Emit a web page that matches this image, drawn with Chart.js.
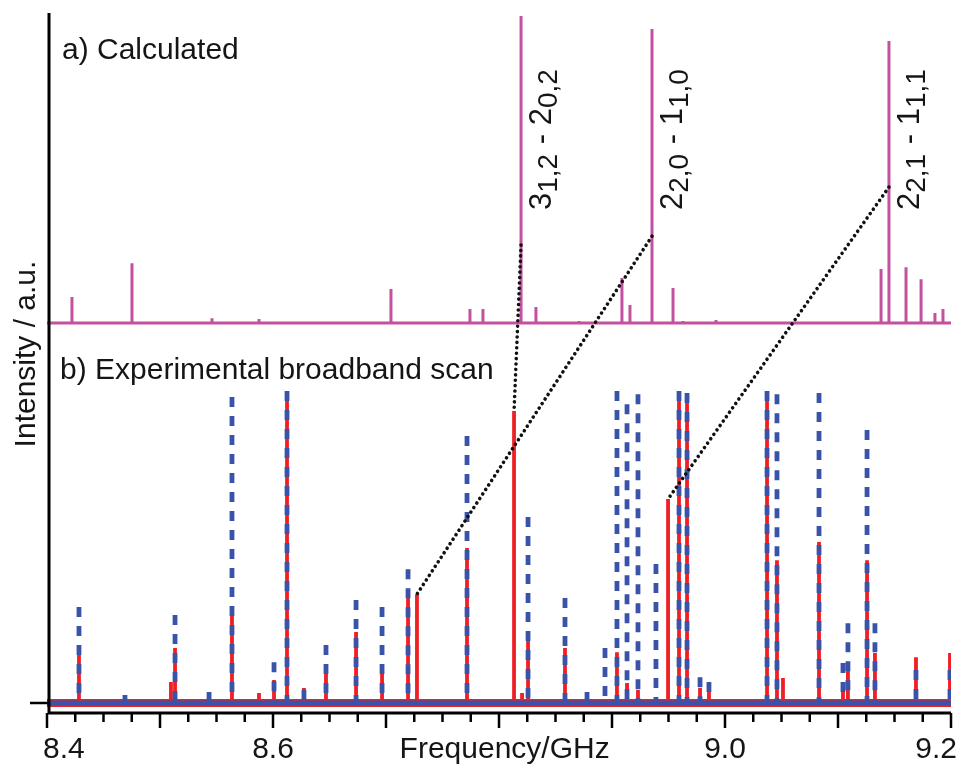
<!DOCTYPE html>
<html>
<head>
<meta charset="utf-8">
<script src="https://cdn.jsdelivr.net/npm/chart.js@4"></script>
<style>
  body { margin: 0; background: #fff; }
  canvas { display: block; }
</style>
</head>
<body>
<canvas id="spec" width="959" height="766"></canvas>
<script>
// a) calculated stick spectrum: frequency (GHz) and relative intensity (strongest = 100)
const calcFreq = [8.4221, 8.4752, 8.5460, 8.5876, 8.7044, 8.7743, 8.7858, 8.8195, 8.8327, 8.8708, 8.9088,
                  8.9159, 8.9354, 8.9540, 8.9628, 8.9920, 9.1381, 9.1451, 9.1602, 9.1735, 9.1858, 9.1929];
const calcInt  = [8.5, 19.5, 1.6, 1.3, 11.1, 4.6, 4.6, 100, 5.2, 0.7, 14.7,
                  5.9, 95.8, 11.4, 0.7, 1.0, 17.6, 91.9, 18.2, 14.3, 3.3, 4.6];

// b) experimental broadband scan, red trace (solid)
const redFreq = [8.4283, 8.5097, 8.5133, 8.5637, 8.5876, 8.6009, 8.6124, 8.6274, 8.6469, 8.6735, 8.6965, 8.7195,
                 8.7274, 8.7717, 8.8133, 8.8204, 8.8257, 8.8584, 8.8779, 8.9044, 8.9133, 8.9230, 8.9496, 8.9593,
                 8.9664, 8.9779, 8.9858, 9.0372, 9.0460, 9.0513, 9.0832, 9.1044, 9.1088, 9.1257, 9.1327, 9.1690, 9.1991];
const redInt  = [15.4, 6.7, 17.6, 28.2, 3.2, 7.4, 100, 4.8, 9.6, 22.8, 9.6, 33.7,
                 34.9, 49.7, 93.6, 3.2, 20.2, 17.6, 3.5, 16.3, 6.4, 4.2, 65.4, 100,
                 99.4, 4.8, 4.8, 100, 45.8, 8.0, 51.6, 5.8, 10.6, 45.8, 16.0, 14.7, 16.0];

// b) experimental broadband scan, blue trace (dashed)
const blueFreq = [8.4283, 8.4690, 8.5133, 8.5434, 8.5637, 8.6009, 8.6124, 8.6274, 8.6469, 8.6735, 8.6965, 8.7195,
                  8.7717, 8.8257, 8.8584, 8.8779, 8.8938, 8.9044, 8.9133, 8.9230, 8.9389, 8.9593, 8.9664, 8.9779,
                  8.9858, 9.0372, 9.0460, 9.0832, 9.1044, 9.1088, 9.1257, 9.1327, 9.1690, 9.1991];
const blueInt  = [30.8, 2.6, 28.2, 3.5, 98.1, 13.1, 100, 4.2, 18.6, 33.0, 30.8, 42.9,
                  85.6, 59.6, 33.7, 3.5, 17.6, 100, 95.8, 99.0, 44.6, 100, 99.4, 8.3,
                  6.7, 100, 99.0, 99.4, 12.8, 25.6, 87.5, 25.6, 10.6, 10.6];

// x axis
const xMin = 8.4, xMax = 9.2, xMinorStep = 0.025;
const xTickValues = [8.4, 8.6, 9.0, 9.2];
const xTickLabels = ['8.4', '8.6', '9.0', '9.2'];

// assignments: calculated line -> observed line
const assignUpper  = ['3', '2', '2'];
const assignUpperK = ['1,2', '2,0', '2,1'];
const assignLower  = ['2', '1', '1'];
const assignLowerK = ['0,2', '1,0', '1,1'];
const assignCalcFreq = [8.8195, 8.9354, 9.1451];
const assignCalcAt   = [25.4, 28.3, 44.3];
const assignObsFreq  = [8.8133, 8.7274, 8.9496];
const assignObsInt   = [93.6, 34.9, 65.4];

const FONT = '"Liberation Sans", Arial, sans-serif';
const MAGENTA = '#c4519f', RED = '#ee1f25', BLUE = '#3953a8';

// stick spectrum as one polyline along the baseline
function stickLine(freqs, ints) {
  const pts = [{x: xMin, y: 0}];
  freqs.forEach((f, i) => pts.push({x: f, y: 0}, {x: f, y: ints[i]}, {x: f, y: 0}));
  pts.push({x: xMax, y: 0});
  return pts;
}
// separate sticks, drawn from the top down
function sticks(freqs, ints) {
  const pts = [];
  freqs.forEach((f, i) => pts.push({x: f, y: ints[i]}, {x: f, y: 0}, {x: f, y: null}));
  return pts;
}

const frame = {
  id: 'frame',
  afterDatasetsDraw(chart) {
    const {ctx, chartArea: a, scales: {x, yc, ye}} = chart;
    ctx.save();

    // dotted assignment lines
    ctx.strokeStyle = '#111';
    ctx.lineWidth = 3.6;
    ctx.lineCap = 'round';
    ctx.setLineDash([0.01, 5.4]);
    assignCalcFreq.forEach((f, i) => {
      ctx.beginPath();
      ctx.moveTo(x.getPixelForValue(f), yc.getPixelForValue(assignCalcAt[i]));
      ctx.lineTo(x.getPixelForValue(assignObsFreq[i]), ye.getPixelForValue(assignObsInt[i]));
      ctx.stroke();
    });
    ctx.setLineDash([]);
    ctx.lineCap = 'butt';

    // axes
    ctx.strokeStyle = '#000';
    ctx.lineWidth = 3;
    ctx.beginPath();
    ctx.moveTo(a.left + 2, a.top);
    ctx.lineTo(a.left + 2, a.bottom + 1.5);
    ctx.moveTo(a.left + 0.5, a.bottom);
    ctx.lineTo(a.right, a.bottom);
    ctx.stroke();

    ctx.lineWidth = 2.5;
    ctx.beginPath();
    const y0 = ye.getPixelForValue(0);
    ctx.moveTo(a.left - 17, y0);
    ctx.lineTo(a.left + 2, y0);
    const n = Math.round((xMax - xMin) / xMinorStep);
    for (let i = 0; i <= n; i++) {
      const px = x.getPixelForValue(xMin + i * xMinorStep);
      ctx.moveTo(px, a.bottom);
      ctx.lineTo(px, a.bottom + (i % 4 === 0 ? 15 : 9));
    }
    ctx.stroke();

    // tick labels and axis titles
    ctx.fillStyle = '#151515';
    ctx.font = '30px ' + FONT;
    ctx.textBaseline = 'alphabetic';
    ctx.textAlign = 'left';
    xTickValues.forEach((v, i) => {
      const w = ctx.measureText(xTickLabels[i]).width;
      let left = x.getPixelForValue(v) - w / 2;
      left = Math.max(43, Math.min(left, chart.width - 2 - w));
      ctx.fillText(xTickLabels[i], left, 758);
    });
    ctx.textAlign = 'center';
    ctx.fillText('Frequency/GHz', x.getPixelForValue(8.805), 758);

    ctx.save();
    ctx.translate(35, 354);
    ctx.rotate(-Math.PI / 2);
    ctx.fillText('Intensity / a.u.', 0, 0);
    ctx.restore();

    ctx.textAlign = 'left';
    ctx.fillText('a) Calculated', 62, 59);
    ctx.fillText('b) Experimental broadband scan', 60, 379);

    // assignment labels, rotated, with subscripts
    assignCalcFreq.forEach((f, i) => {
      ctx.save();
      ctx.translate(x.getPixelForValue(f) + 30, 210);
      ctx.rotate(-Math.PI / 2);
      let cx = 0;
      const runs = [[assignUpper[i], false], [assignUpperK[i], true], [' - ' + assignLower[i], false], [assignLowerK[i], true]];
      runs.forEach(([t, sub]) => {
        ctx.font = (sub ? '28px ' : '31px ') + FONT;
        ctx.fillText(t, cx, sub ? 6 : 0);
        cx += ctx.measureText(t).width + (sub ? 1 : 0);
      });
      ctx.restore();
    });

    ctx.restore();
  }
};

new Chart(document.getElementById('spec'), {
  type: 'line',
  data: {
    datasets: [
      { data: sticks(blueFreq, blueInt), yAxisID: 'ye', borderColor: BLUE, borderWidth: 4.8,
        borderDash: [10, 9], spanGaps: false },
      { data: [{x: xMin, y: 0}, {x: xMax, y: 0}], yAxisID: 'ye', borderColor: BLUE, borderWidth: 5 },
      { data: sticks(redFreq, redInt), yAxisID: 'ye', borderColor: RED, borderWidth: 3.8, spanGaps: false },
      { data: [{x: xMin, y: 0}, {x: xMax, y: 0}], yAxisID: 'ye', borderColor: RED, borderWidth: 8 },
      { data: stickLine(calcFreq, calcInt), yAxisID: 'yc', borderColor: MAGENTA, borderWidth: 3 }
    ]
  },
  options: {
    responsive: false,
    animation: false,
    layout: { padding: { left: 47, right: 8, top: 13, bottom: 53 } },
    elements: { point: { radius: 0 }, line: { tension: 0, borderJoinStyle: 'miter' } },
    scales: {
      x: { type: 'linear', min: xMin, max: xMax, display: false },
      yc: { type: 'linear', min: -127, max: 101, display: false },
      ye: { type: 'linear', min: -3.2, max: 221.2, display: false }
    },
    plugins: { legend: { display: false }, tooltip: { enabled: false } }
  },
  plugins: [frame]
});
</script>
</body>
</html>
